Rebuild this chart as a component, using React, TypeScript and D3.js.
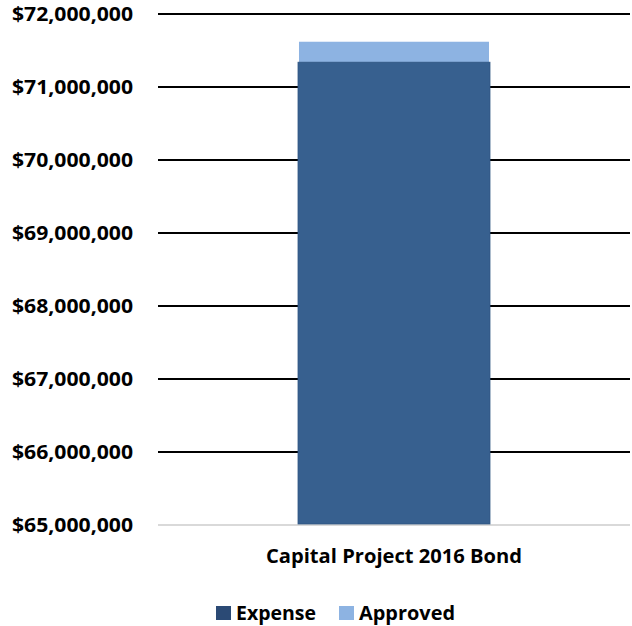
import React from "react";
import * as d3 from "d3";

const categories = ["Capital Project 2016 Bond"];
const expenseValues = [71340000];
const approvedValues = [71620000];
const yTicks = [65000000, 66000000, 67000000, 68000000, 69000000, 70000000, 71000000, 72000000];
const legendItems = ["Expense", "Approved"];

const W = 632;
const H = 626;
const FONT = "'Open Sans', 'Liberation Sans', sans-serif";

export default function App() {
  const x = d3.scaleBand<string>().domain(categories).range([158, 630]).paddingInner(0).paddingOuter(0.729);
  const y = d3.scaleLinear().domain([65000000, 72000000]).range([525, 14]);
  const fmt = (v: number) => "$" + d3.format(",")(v);
  const expenseColor = "#37608f";
  const approvedColor = "#8db3e2";
  const legendColors = ["#2b4a75", approvedColor];

  return (
    <svg width={W} height={H} style={{ position: "absolute", left: 0, top: 0, background: "#fff" }}>
      {yTicks.map((t, i) => (
        <g key={t}>
          <line
            x1={158}
            x2={630}
            y1={y(t)}
            y2={y(t)}
            stroke={i === 0 ? "#d9d9d9" : "#000"}
            strokeWidth={2}
          />
          <text
            x={133}
            y={y(t)}
            textAnchor="end"
            dominantBaseline="central"
            fontFamily={FONT}
            fontWeight={700}
            fontSize={19}
            textLength={121}
            lengthAdjust="spacingAndGlyphs"
            fill="#000"
          >
            {fmt(t)}
          </text>
        </g>
      ))}
      {categories.map((c, i) => (
        <g key={c}>
          <rect
            x={(x(c) as number) + 1}
            y={y(approvedValues[i])}
            width={x.bandwidth() - 2}
            height={y(65000000) - 1 - y(approvedValues[i])}
            fill={approvedColor}
          />
          <rect
            x={x(c) as number}
            y={y(expenseValues[i])}
            width={x.bandwidth()}
            height={y(65000000) - 1 - y(expenseValues[i])}
            fill={expenseColor}
            stroke="#2f5582"
            strokeWidth={0.75}
          />
          <text
            x={(x(c) as number) + x.bandwidth() / 2}
            y={556}
            textAnchor="middle"
            dominantBaseline="central"
            fontFamily={FONT}
            fontWeight={700}
            fontSize={19}
            textLength={256}
            lengthAdjust="spacingAndGlyphs"
            fill="#000"
          >
            {c}
          </text>
        </g>
      ))}
      {legendItems.map((l, i) => {
        const lx = i === 0 ? 216 : 339;
        return (
          <g key={l}>
            <rect x={lx} y={606} width={15} height={14} fill={legendColors[i]} />
            <text
              x={lx + 20}
              y={613}
              dominantBaseline="central"
              fontFamily={FONT}
              fontWeight={700}
              fontSize={19}
              textLength={i === 0 ? 80 : 96}
              lengthAdjust="spacingAndGlyphs"
              fill="#000"
            >
              {l}
            </text>
          </g>
        );
      })}
    </svg>
  );
}
